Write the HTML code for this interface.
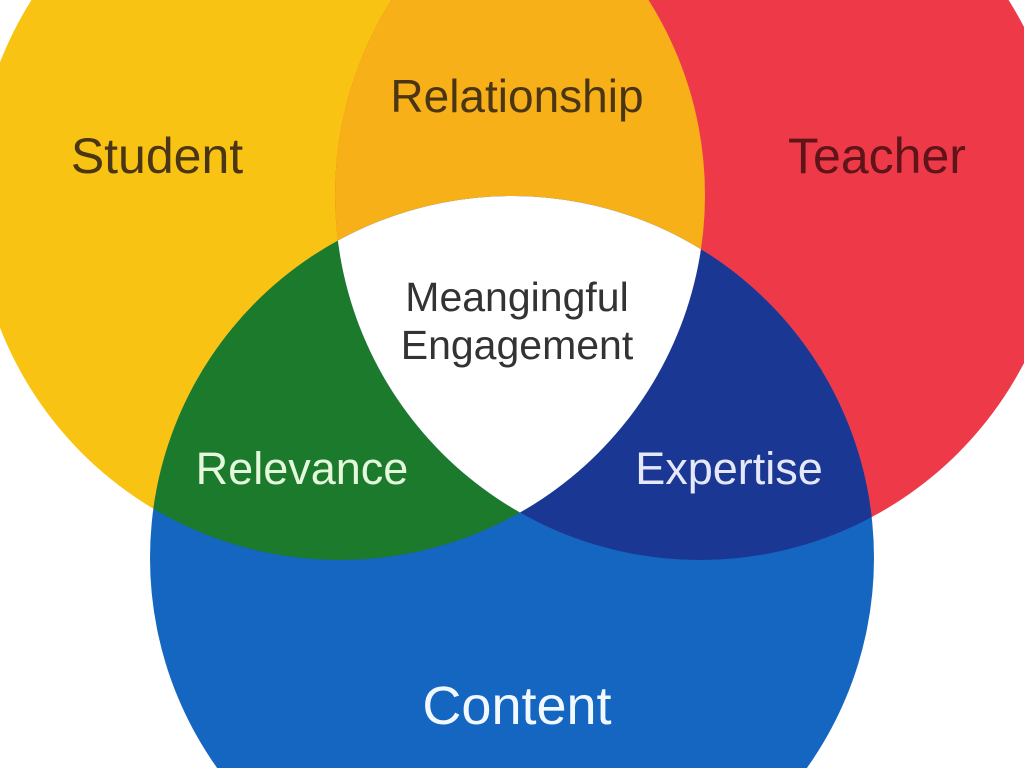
<!DOCTYPE html>
<html><head><style>
html,body{margin:0;padding:0;background:#fff;width:1024px;height:768px;overflow:hidden}
svg{display:block}
svg text{font-family:"Liberation Sans","DejaVu Sans",sans-serif}
</style></head><body>
<svg width="1024" height="768" viewBox="0 0 1024 768">
<defs>
<clipPath id="cy"><circle cx="340" cy="195" r="365"/></clipPath>
<clipPath id="cr"><circle cx="700" cy="195" r="365"/></clipPath>
</defs>
<rect width="1024" height="768" fill="#fff"/>
<circle cx="340" cy="195" r="365" fill="#F9C314"/>
<circle cx="700" cy="195" r="365" fill="#EE3A48"/>
<circle cx="512" cy="558" r="362" fill="#1466C0"/>
<g clip-path="url(#cy)"><circle cx="700" cy="195" r="365" fill="#F8B018"/></g>
<g clip-path="url(#cy)"><circle cx="512" cy="558" r="362" fill="#1B7A2C"/></g>
<g clip-path="url(#cr)"><circle cx="512" cy="558" r="362" fill="#1A3794"/></g>
<g clip-path="url(#cy)"><g clip-path="url(#cr)"><circle cx="512" cy="558" r="362" fill="#FFFFFF"/></g></g>
<text x="157" y="173" font-size="50" fill="#4A3614" text-anchor="middle">Student</text>
<text x="517" y="112" font-size="46" fill="#4A3614" text-anchor="middle">Relationship</text>
<text x="877" y="173" font-size="50" fill="#5E1418" text-anchor="middle">Teacher</text>
<text x="517" y="311" font-size="41" fill="#333" text-anchor="middle">Meangingful</text>
<text x="517" y="359" font-size="41" fill="#333" text-anchor="middle">Engagement</text>
<text x="302" y="484" font-size="45" fill="#E4F8DC" text-anchor="middle">Relevance</text>
<text x="729" y="484" font-size="45" fill="#E6E8FA" text-anchor="middle">Expertise</text>
<text x="517" y="724" font-size="54" fill="#F2F8FF" text-anchor="middle">Content</text>
</svg>
</body></html>
